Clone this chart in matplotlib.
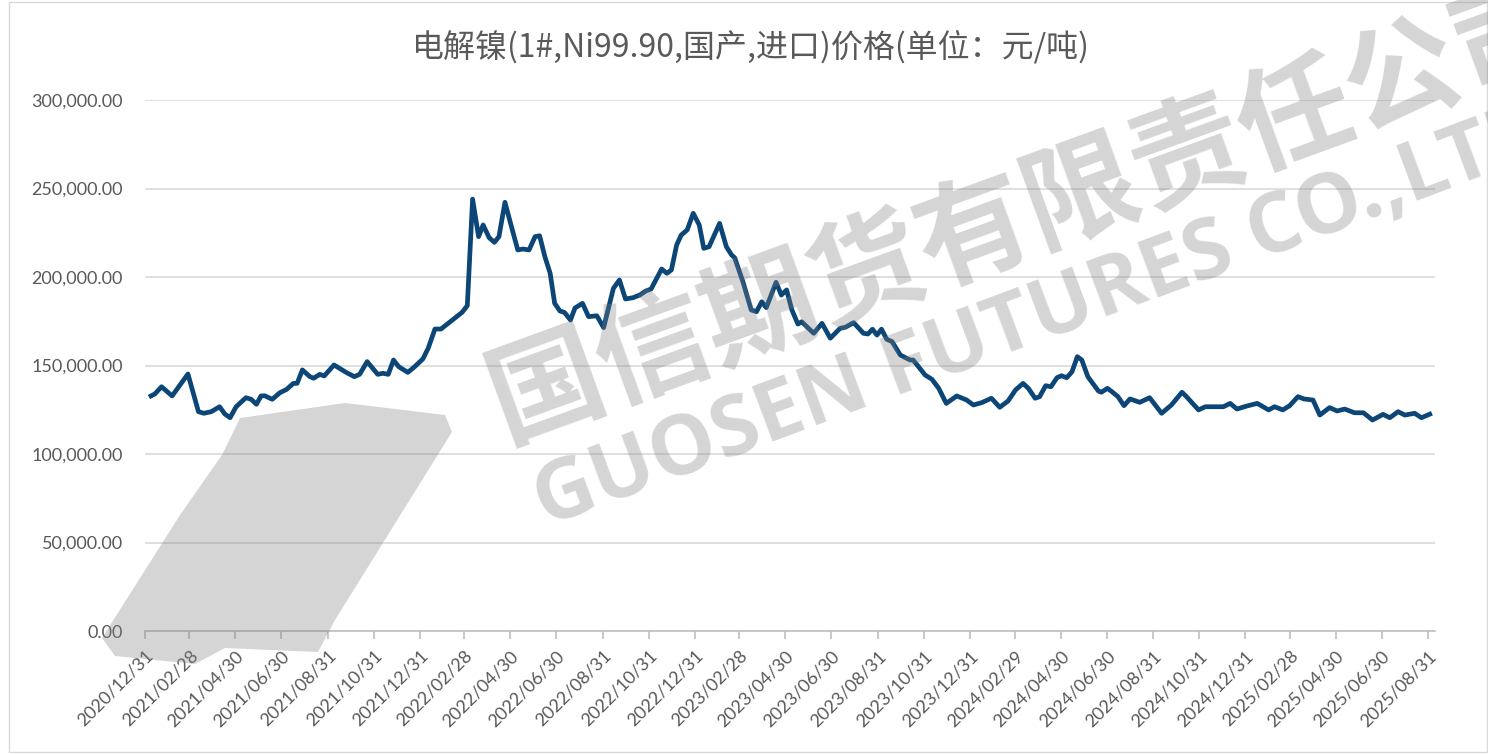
import matplotlib
matplotlib.use("Agg")
import matplotlib.pyplot as plt
import pandas as pd
from matplotlib.ticker import FuncFormatter
from matplotlib.patches import Polygon

# weekly-ish price points (元/吨)
dates = [
    "2021-01-08", "2021-01-13", "2021-01-22", "2021-02-05", "2021-02-26", "2021-03-12", "2021-03-19",
    "2021-03-29", "2021-04-09", "2021-04-16", "2021-04-23", "2021-05-01", "2021-05-14", "2021-05-21",
    "2021-05-28", "2021-06-03", "2021-06-08", "2021-06-18", "2021-06-28", "2021-07-07", "2021-07-16",
    "2021-07-21", "2021-07-28", "2021-08-07", "2021-08-12", "2021-08-20", "2021-08-26", "2021-09-08",
    "2021-09-25", "2021-10-05", "2021-10-12", "2021-10-22", "2021-11-05", "2021-11-12", "2021-11-19",
    "2021-11-26", "2021-12-03", "2021-12-15", "2021-12-24", "2022-01-04", "2022-01-11", "2022-01-20",
    "2022-01-28", "2022-02-05", "2022-02-15", "2022-02-25", "2022-03-04", "2022-03-11", "2022-03-19",
    "2022-03-25", "2022-04-02", "2022-04-09", "2022-04-15", "2022-04-23", "2022-05-01", "2022-05-10",
    "2022-05-17", "2022-05-25", "2022-06-02", "2022-06-08", "2022-06-15", "2022-06-22", "2022-06-28",
    "2022-07-05", "2022-07-11", "2022-07-19", "2022-07-25", "2022-08-04", "2022-08-12", "2022-08-23",
    "2022-09-01", "2022-09-14", "2022-09-22", "2022-09-30", "2022-10-10", "2022-10-19", "2022-10-27",
    "2022-11-03", "2022-11-17", "2022-11-24", "2022-11-30", "2022-12-07", "2022-12-13", "2022-12-21",
    "2022-12-29", "2023-01-06", "2023-01-12", "2023-01-19", "2023-02-02", "2023-02-11", "2023-02-18",
    "2023-02-22", "2023-03-05", "2023-03-16", "2023-03-23", "2023-03-30", "2023-04-05", "2023-04-18",
    "2023-04-25", "2023-05-02", "2023-05-09", "2023-05-17", "2023-05-22", "2023-06-07", "2023-06-18",
    "2023-06-29", "2023-07-12", "2023-07-19", "2023-07-30", "2023-08-12", "2023-08-18", "2023-08-24",
    "2023-08-30", "2023-09-05", "2023-09-12", "2023-09-19", "2023-09-30", "2023-10-13", "2023-10-17",
    "2023-11-02", "2023-11-11", "2023-11-20", "2023-11-30", "2023-12-14", "2023-12-27", "2024-01-05",
    "2024-01-16", "2024-01-29", "2024-02-09", "2024-02-20", "2024-03-01", "2024-03-11", "2024-03-18",
    "2024-03-27", "2024-04-02", "2024-04-10", "2024-04-17", "2024-04-25", "2024-05-01", "2024-05-08",
    "2024-05-15", "2024-05-22", "2024-05-28", "2024-06-05", "2024-06-19", "2024-06-23", "2024-07-01",
    "2024-07-07", "2024-07-15", "2024-07-23", "2024-07-31", "2024-08-13", "2024-08-26", "2024-09-11",
    "2024-09-24", "2024-10-08", "2024-10-14", "2024-10-30", "2024-11-08", "2024-11-19", "2024-12-02",
    "2024-12-11", "2024-12-20", "2025-01-02", "2025-01-16", "2025-01-31", "2025-02-08", "2025-02-19",
    "2025-02-28", "2025-03-11", "2025-03-19", "2025-03-31", "2025-04-09", "2025-04-22", "2025-05-02",
    "2025-05-12", "2025-05-25", "2025-06-06", "2025-06-18", "2025-07-02", "2025-07-11", "2025-07-22",
    "2025-07-31", "2025-08-13", "2025-08-22", "2025-09-02",
]
prices = [
    132800, 133900, 138000, 132800, 145200, 123900, 123000,
    123900, 126700, 122600, 120500, 126700, 131800, 130900,
    128100, 132800, 132900, 130900, 134600, 136500, 139900,
    139900, 147500, 143700, 142800, 145000, 144100, 150300,
    145900, 143700, 145000, 152200, 145000, 145600, 145000,
    153100, 149300, 146100, 149300, 153700, 159700, 170600,
    170600, 173300, 176700, 180000, 183800, 244000, 222800,
    229400, 222200, 219600, 222800, 242200, 229400, 215300,
    215800, 215300, 222800, 223300, 211500, 202100, 185100,
    180800, 180000, 175700, 182500, 185100, 177600, 178100,
    171400, 193600, 198300, 187600, 188300, 189800, 192100,
    193200, 204500, 202100, 204000, 218100, 223700, 226600,
    236000, 229400, 216200, 217100, 230300, 217100, 212400,
    210900, 197300, 181400, 180400, 186000, 182700, 197000,
    189800, 192700, 181400, 173400, 174700, 168200, 173800,
    165400, 171000, 171600, 174200, 168200, 167800, 170500,
    167200, 170500, 164800, 163500, 155900, 153100, 153100,
    144600, 142200, 137100, 128600, 132800, 130500, 127700,
    129000, 131500, 126400, 129900, 136200, 139900, 137100,
    131500, 132400, 138600, 138000, 143100, 144200, 143100,
    146500, 155000, 153100, 143700, 135600, 134900, 137100,
    135200, 132400, 127300, 131100, 129200, 131800, 123000,
    127700, 134900, 132400, 124900, 126700, 126700, 126700,
    128600, 125400, 127100, 128600, 124900, 126700, 124900,
    127300, 132400, 131100, 130500, 122000, 126200, 124300,
    125400, 123300, 123300, 119200, 122400, 120500, 123900,
    122000, 123000, 120500, 122500,
]

tick_labels = [
    "2020/12/31", "2021/02/28", "2021/04/30", "2021/06/30", "2021/08/31", "2021/10/31",
    "2021/12/31", "2022/02/28", "2022/04/30", "2022/06/30", "2022/08/31", "2022/10/31",
    "2022/12/31", "2023/02/28", "2023/04/30", "2023/06/30", "2023/08/31", "2023/10/31",
    "2023/12/31", "2024/02/29", "2024/04/30", "2024/06/30", "2024/08/31", "2024/10/31",
    "2024/12/31", "2025/02/28", "2025/04/30", "2025/06/30", "2025/08/31",
]

title = "电解镍(1#,Ni99.90,国产,进口)价格(单位：元/吨)"

x = pd.to_datetime(dates)
ticks = pd.to_datetime(tick_labels, format="%Y/%m/%d")

plt.rcParams["font.family"] = ["Noto Sans CJK SC", "DejaVu Sans"]

W, H = 1488, 754
fig = plt.figure(figsize=(W / 100, H / 100), dpi=100)
ax = fig.add_axes([145 / W, 123 / H, 1290 / W, 531 / H])
ax.patch.set_alpha(0)

ax.plot(x, prices, color="#0b4677", lw=3.4, solid_joinstyle="round", zorder=3)

ax.set_ylim(0, 300000)
ax.set_yticks(range(0, 300001, 50000))
ax.yaxis.set_major_formatter(FuncFormatter(lambda v, p: "{:,.2f}".format(v)))
ax.grid(axis="y", color="#d9d9d9", lw=1.2)
ax.set_axisbelow(True)

ax.set_xlim(ticks[0], ticks[0] + pd.Timedelta(days=1713))
ax.set_xticks(ticks)
ax.set_xticklabels(tick_labels, rotation=45, ha="right", va="top", rotation_mode="anchor")

for s in ["top", "right", "left"]:
    ax.spines[s].set_visible(False)
ax.spines["bottom"].set_color("#bfbfbf")
ax.spines["bottom"].set_linewidth(1.2)

ax.tick_params(axis="y", length=0, pad=16, labelsize=13, labelcolor="#595959")
ax.tick_params(axis="x", length=6, width=1.2, color="#bfbfbf", pad=6, labelsize=13, labelcolor="#595959")
for lab in ax.get_yticklabels() + ax.get_xticklabels():
    lab.set_family(["Lato", "DejaVu Sans"])

fig.text(0.505, 1 - 47 / H, title, ha="center", va="center", fontsize=23, color="#595959")

# watermark (logo + company name)
logo = [(240, 418), (345, 403), (445, 415), (452, 432), (335, 620), (318, 652),
        (225, 648), (195, 664), (115, 656), (102, 638), (180, 515), (222, 455)]
fig.patches.append(Polygon([(px / W, 1 - py / H) for px, py in logo], closed=True,
                           transform=fig.transFigure, facecolor="gray", edgecolor="none",
                           alpha=0.33, zorder=5))
fig.text(505 / W, 1 - 440 / H, "国信期货有限责任公司", ha="left", va="baseline",
         rotation=20, rotation_mode="anchor", fontsize=82, fontweight="bold",
         color="gray", alpha=0.33, zorder=5)
fig.text(545 / W, 1 - 527 / H, "GUOSEN FUTURES CO.,LTD", ha="left", va="baseline",
         rotation=20.5, rotation_mode="anchor", fontsize=60, fontweight="bold",
         color="gray", alpha=0.33, zorder=5, family=["Open Sans", "DejaVu Sans"])

fig.patches.append(plt.Rectangle((9 / W, 0.002), 1 - 10 / W, 0.996, transform=fig.transFigure,
                                 fill=False, edgecolor="#d9d9d9", lw=1))

fig.savefig("out.png", dpi=100)
